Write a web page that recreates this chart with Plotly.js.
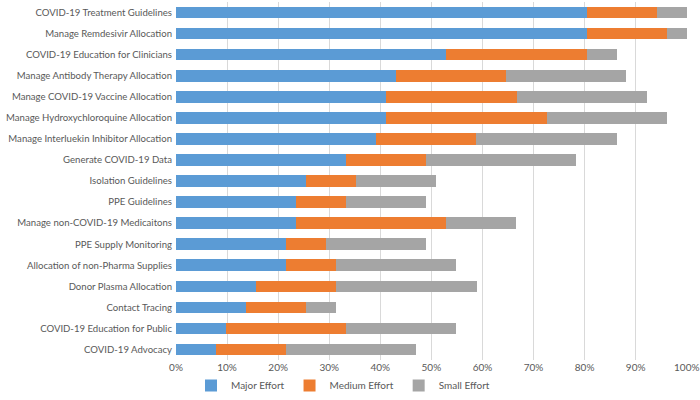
<!DOCTYPE html>
<html>
<head>
<meta charset="utf-8">
<script src="https://cdn.plot.ly/plotly-3.0.1.min.js"></script>
<style>html,body{margin:0;padding:0;background:#fff;}#chart{width:700px;height:400px;}</style>
</head>
<body>
<div id="chart"></div>
<script>
const categories = [
  "COVID-19 Treatment Guidelines",
  "Manage Remdesivir Allocation",
  "COVID-19 Education for Clinicians",
  "Manage Antibody Therapy Allocation",
  "Manage COVID-19 Vaccine Allocation",
  "Manage Hydroxychloroquine Allocation",
  "Manage Interluekin Inhibitor Allocation",
  "Generate COVID-19 Data",
  "Isolation Guidelines",
  "PPE Guidelines",
  "Manage non-COVID-19 Medicaitons",
  "PPE Supply Monitoring",
  "Allocation of non-Pharma Supplies",
  "Donor Plasma Allocation",
  "Contact Tracing",
  "COVID-19 Education for Public",
  "COVID-19 Advocacy"
];
const majorEffort  = [80.4, 80.4, 52.9, 43.1, 41.2, 41.2, 39.2, 33.3, 25.5, 23.5, 23.5, 21.6, 21.6, 15.7, 13.7, 9.8, 7.8];
const mediumEffort = [13.7, 15.7, 27.5, 21.6, 25.5, 31.4, 19.6, 15.7, 9.8, 9.8, 29.4, 7.8, 9.8, 15.7, 11.8, 23.5, 13.7];
const smallEffort  = [5.9, 3.9, 5.9, 23.5, 25.5, 23.5, 27.5, 29.4, 15.7, 15.7, 13.7, 19.6, 23.5, 27.5, 5.9, 21.6, 25.5];
const seriesNames = ["Major Effort", "Medium Effort", "Small Effort"];
const tickValues = [0, 10, 20, 30, 40, 50, 60, 70, 80, 90, 100];
const tickLabels = ["0%", "10%", "20%", "30%", "40%", "50%", "60%", "70%", "80%", "90%", "100%"];

const colors = ["#5B9BD5", "#ED7D31", "#A5A5A5"];
const seriesData = [majorEffort, mediumEffort, smallEffort];
const traces = seriesData.map((vals, i) => ({
  type: "bar",
  orientation: "h",
  name: seriesNames[i],
  x: vals,
  y: categories,
  marker: {color: colors[i]},
  hoverinfo: "x+y+name"
}));

const layout = {
  width: 700, height: 400,
  barmode: "stack",
  bargap: 0.45,
  margin: {l: 176, r: 13, t: 2, b: 40},
  paper_bgcolor: "#ffffff",
  plot_bgcolor: "#ffffff",
  font: {family: "Lato, 'Open Sans', sans-serif", size: 10, color: "#595959"},
  xaxis: {
    range: [0, 100.05],
    tickvals: tickValues,
    ticktext: tickLabels,
    showgrid: true,
    gridcolor: "#d9d9d9",
    gridwidth: 1,
    zeroline: false,
    showline: false,
    ticks: "",
    ticklen: 0,
    ticklabeloverflow: "allow",
    tickfont: {size: 10, color: "#595959"},
    fixedrange: true
  },
  yaxis: {
    autorange: "reversed",
    showgrid: false,
    zeroline: false,
    showline: false,
    ticks: "",
    ticklen: 0,
    ticklabelstandoff: 3,
    tickfont: {size: 9.6, color: "#595959"},
    automargin: false,
    fixedrange: true
  },
  showlegend: true,
  legend: {
    orientation: "h",
    xref: "container",
    yref: "container",
    x: 0.49, xanchor: "center",
    y: 0.0, yanchor: "bottom",
    font: {size: 10, color: "#595959"},
    itemwidth: 30,
    traceorder: "normal",
    bgcolor: "rgba(0,0,0,0)"
  }
};

Plotly.newPlot("chart", traces, layout, {displayModeBar: false, staticPlot: true});
</script>
</body>
</html>
